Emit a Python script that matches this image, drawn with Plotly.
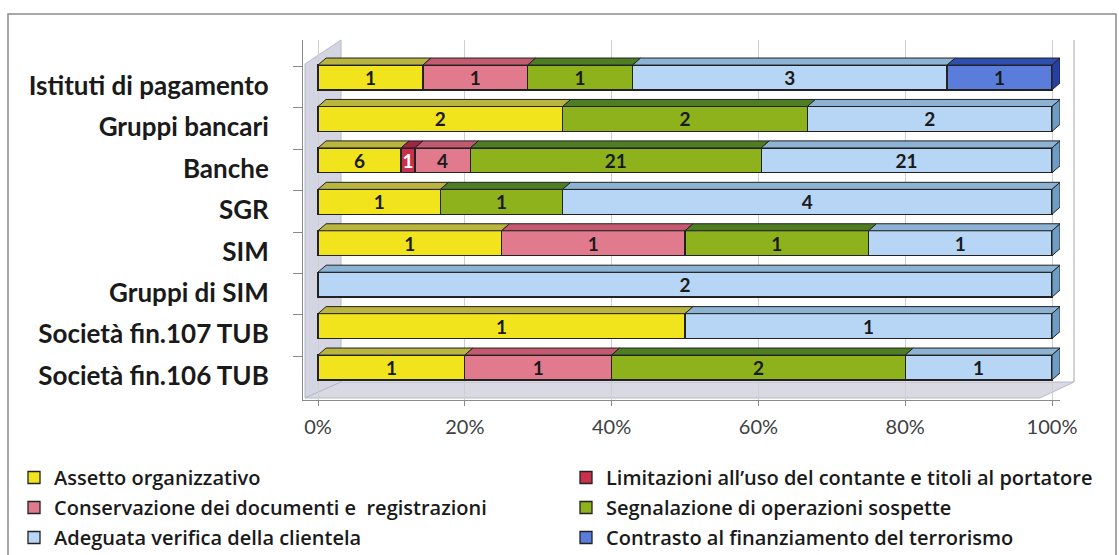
import numpy as np
import plotly.graph_objects as go

categories = ["Società fin.106 TUB", "Società fin.107 TUB", "Gruppi di SIM", "SIM",
              "SGR", "Banche", "Gruppi bancari", "Istituti di pagamento"]
series_names = ["Assetto organizzativo",
                "Limitazioni all’uso del contante e titoli al portatore",
                "Conservazione dei documenti e  registrazioni",
                "Segnalazione di operazioni sospette",
                "Adeguata verifica della clientela",
                "Contrasto al finanziamento del terrorismo"]
assetto = [1, 1, 0, 1, 1, 6, 2, 1]
limitazioni = [0, 0, 0, 0, 0, 1, 0, 0]
conservazione = [1, 0, 0, 1, 0, 4, 0, 1]
segnalazione = [2, 0, 0, 1, 1, 21, 2, 1]
adeguata = [1, 1, 2, 1, 4, 21, 2, 3]
contrasto = [0, 0, 0, 0, 0, 0, 0, 1]
x_ticks = [0, 20, 40, 60, 80, 100]
x_tick_labels = ["0%", "20%", "40%", "60%", "80%", "100%"]

series_values = [assetto, limitazioni, conservazione, segnalazione, adeguata, contrasto]
front_colors = ["#F2E41C", "#C9304C", "#E27A8E", "#8DB21C", "#B7D5F4", "#5A7DDB"]
top_colors = ["#B9B53E", "#9E2440", "#C45A70", "#4E7D22", "#8CB3D4", "#2F4FB0"]
side_colors = ["#A8A42E", "#8A1E38", "#B04A60", "#3E6A1A", "#6F9CC4", "#2540A0"]
text_colors = ["#1a1a1a", "#ffffff", "#1a1a1a", "#1a1a1a", "#1a1a1a", "#1a1a1a"]
legend_of = ["legend", "legend2", "legend", "legend2", "legend", "legend2"]

BW = 0.6      # bar thickness (category units)
DX = 1.1      # depth offset in percent units
DY = 0.17     # depth offset in category units

# plot-area geometry in pixels
W, H = 1119, 555
ML, MR, MT, MB = 303, 59, 40, 155
pw = W - ML - MR
ph = H - MT - MB
PX_PER_PCT = 7.34
X0 = -(318 - ML) / PX_PER_PCT
X1 = X0 + pw / PX_PER_PCT


def px2x(p):
    return (p - ML) / pw


def py2y(p):
    return (H - MB - p) / ph


vals = np.array(series_values, dtype=float)
totals = vals.sum(axis=0)
pct = vals / totals * 100
cum = np.cumsum(pct, axis=0)
start = cum - pct
ypos = np.arange(len(categories))

fig = go.Figure()
for k, name in enumerate(series_names):
    v = series_values[k]
    fig.add_trace(go.Bar(
        name=name, y=ypos, x=v, orientation="h", width=BW,
        legend=legend_of[k], legendgroup=f"g{k}",
        marker=dict(color=front_colors[k], line=dict(color="#222222", width=1.3)),
        text=[str(a) if a else "" for a in v],
        textposition="inside", insidetextanchor="middle", textangle=0,
        textfont=dict(family="Lato", size=19, color=text_colors[k], weight="bold"),
        hoverinfo="x+y+name",
    ))

# 3D top faces and right side faces, derived from the data
for k in range(len(series_names)):
    xs, ys = [], []
    for i in ypos:
        if vals[k, i] <= 0:
            continue
        x0, x1 = start[k, i], cum[k, i]
        yt = i + BW / 2
        xs += [x0, x0 + DX, x1 + DX, x1, x0, None]
        ys += [yt, yt + DY, yt + DY, yt, yt, None]
    if xs:
        fig.add_trace(go.Scatter(x=xs, y=ys, mode="lines", fill="toself",
                                 fillcolor=top_colors[k],
                                 line=dict(color="#222222", width=1),
                                 showlegend=False, hoverinfo="skip"))
    sx, sy = [], []
    for i in ypos:
        last = max(j for j in range(len(series_names)) if vals[j, i] > 0)
        if last != k:
            continue
        x1 = cum[k, i]
        yt, yb = i + BW / 2, i - BW / 2
        sx += [x1, x1 + DX, x1 + DX, x1, x1, None]
        sy += [yt, yt + DY, yb + DY, yb, yt, None]
    if sx:
        fig.add_trace(go.Scatter(x=sx, y=sy, mode="lines", fill="toself",
                                 fillcolor=side_colors[k],
                                 line=dict(color="#222222", width=1),
                                 showlegend=False, hoverinfo="skip"))


def poly(points):
    return "M " + " L ".join(f"{px2x(a):.5f},{py2y(b):.5f}" for a, b in points) + " Z"


legend_font = dict(family="Open Sans", size=20, color="#1a1a1a", weight=600)
fig.update_layout(
    width=W, height=H, autosize=False,
    barmode="stack", barnorm="percent",
    margin=dict(l=ML, r=MR, t=MT, b=MB, autoexpand=False),
    paper_bgcolor="white", plot_bgcolor="white",
    font=dict(family="Lato", color="#1a1a1a"),
    uniformtext=dict(mode="show", minsize=19),
    xaxis=dict(range=[X0, X1], tickvals=x_ticks, ticktext=x_tick_labels,
               showgrid=True, gridcolor="#cfcfcf", gridwidth=1, zeroline=False,
               showline=True, linecolor="#8a8a8a", ticks="outside", ticklen=5,
               tickcolor="#8a8a8a", ticklabelstandoff=4,
               tickfont=dict(family="Lato", size=20, color="#404040")),
    yaxis=dict(range=[-0.784, 7.905], tickvals=list(ypos - 0.2), ticktext=categories,
               ticks="", showgrid=False, zeroline=False, showline=True,
               linecolor="#8a8a8a", ticklabelstandoff=28,
               tickfont=dict(family="Lato", size=26, color="#1a1a1a", weight="bold"),
               minor=dict(tickvals=list(ypos + 0.27), ticks="outside", ticklen=9,
                          tickcolor="#8a8a8a", showgrid=False)),
    legend=dict(orientation="v", x=px2x(14), xanchor="left", y=py2y(458), yanchor="top",
                traceorder="grouped", font=legend_font, bgcolor="rgba(0,0,0,0)",
                tracegroupgap=1),
    legend2=dict(orientation="v", x=px2x(566), xanchor="left", y=py2y(458), yanchor="top",
                 traceorder="grouped", font=legend_font, bgcolor="rgba(0,0,0,0)",
                 tracegroupgap=1),
    shapes=[
        dict(type="rect", xref="paper", yref="paper",
             x0=px2x(8), x1=px2x(1116), y0=py2y(570), y1=py2y(14),
             line=dict(color="#8a8a8a", width=1.5), fillcolor="rgba(0,0,0,0)",
             layer="below"),
        # left wall
        dict(type="path", xref="paper", yref="paper", layer="below",
             path=poly([(305, 398), (305, 64), (341, 40), (341, 382)]),
             fillcolor="#d3d5e2", line=dict(color="#b8bac8", width=1)),
        # floor
        dict(type="path", xref="paper", yref="paper", layer="below",
             path=poly([(305, 398), (1040, 398), (1074, 382), (341, 382)]),
             fillcolor="#d9d9e3", line=dict(color="#b8bac8", width=1)),
        # back-wall right edge
        dict(type="line", xref="paper", yref="paper", layer="below",
             x0=px2x(1074), x1=px2x(1074), y0=py2y(382), y1=py2y(40),
             line=dict(color="#c4c4c4", width=1.5)),
    ],
)

fig.write_html("out.html", config={"displayModeBar": False},
               post_script="document.body.style.margin='0px';")
